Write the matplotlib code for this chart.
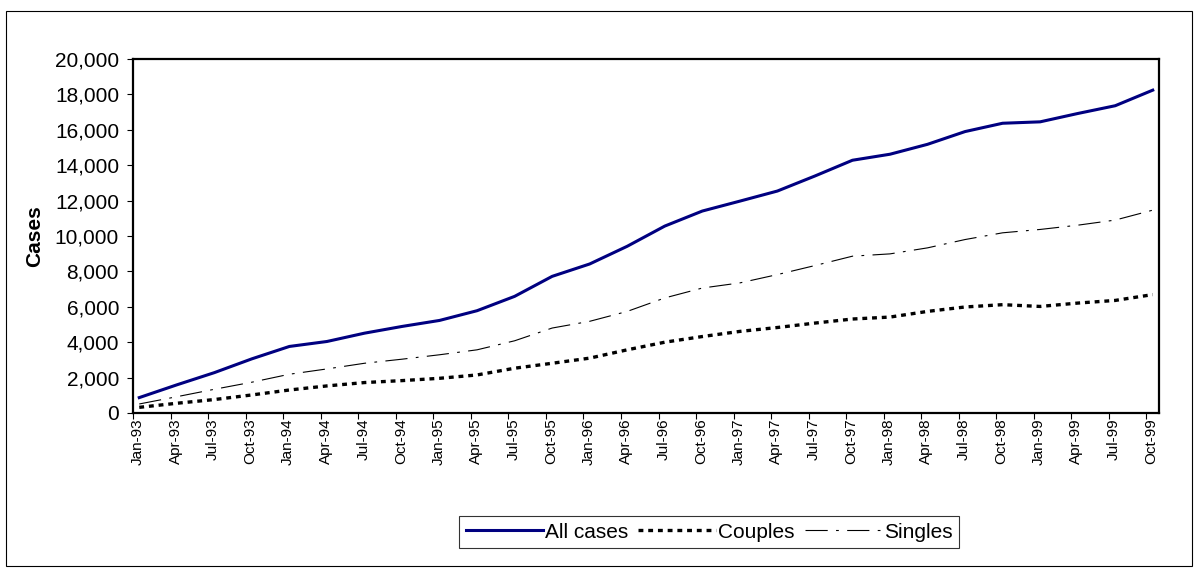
import matplotlib
matplotlib.use('Agg')
import matplotlib.pyplot as plt
from matplotlib.patches import Rectangle
from matplotlib.ticker import FuncFormatter

plt.rcParams['font.family'] = ['Liberation Sans', 'DejaVu Sans']
plt.rcParams['lines.scale_dashes'] = False

# quarterly tick labels, Jan-93 .. Oct-99
quarters = ['Jan', 'Apr', 'Jul', 'Oct']
labels = [q + '-' + str(y) for y in range(93, 100) for q in quarters]

# values at each quarter
all_cases = [870, 1590, 2280, 3060, 3760, 4040, 4510, 4890, 5230, 5780,
             6590, 7720, 8420, 9420, 10560, 11410, 11970, 12540, 13390, 14280,
             14620, 15180, 15900, 16370, 16450, 16920, 17360, 18240]
couples = [320, 550, 760, 1020, 1300, 1530, 1720, 1830, 1960, 2150,
           2530, 2810, 3100, 3570, 4000, 4320, 4610, 4830, 5080, 5310,
           5420, 5740, 5990, 6120, 6020, 6210, 6360, 6690]
singles = [510, 920, 1340, 1740, 2190, 2490, 2810, 3040, 3290, 3570,
           4080, 4800, 5180, 5740, 6500, 7060, 7350, 7820, 8330, 8860,
           8990, 9330, 9800, 10180, 10370, 10610, 10900, 11460]

# date axis in months from Jan-93, points sit mid-month
tick_pos = [3 * i for i in range(len(labels))]
x = [p + 0.5 for p in tick_pos]

fig = plt.figure(figsize=(11.97, 5.68), dpi=100)
W, H = 1197.0, 568.0
ax = fig.add_axes([133 / W, (H - 413) / H, (1159 - 133) / W, (413 - 59) / H])

ax.plot(x, all_cases, color='#000080', lw=2.2, label='All cases')
ax.plot(x, couples, color='black', lw=2.4, dashes=(3.5, 3.5), label='Couples')
ax.plot(x, singles, color='black', lw=0.8, dashes=(16, 6, 2, 6), label='Singles')

ax.set_xlim(0, 82)
ax.set_ylim(0, 20000)
ax.set_yticks(range(0, 20001, 2000))
ax.yaxis.set_major_formatter(FuncFormatter(lambda v, p: '{:,.0f}'.format(v)))

ax.set_xticks(tick_pos)
ax.set_xticklabels([])
ax.set_xticks([p + 0.4 for p in tick_pos], labels, minor=True, rotation=90)
ax.tick_params(axis='x', which='minor', length=0, labelsize=11, pad=4)
ax.tick_params(axis='x', which='major', direction='out', length=4, width=0.8)
ax.tick_params(axis='y', direction='out', length=4, width=0.8, labelsize=15, pad=6)

for s in ax.spines.values():
    s.set_linewidth(1.6)

ax.set_ylabel('Cases', fontsize=15, fontweight='bold', labelpad=8)

leg = fig.legend(loc='center', bbox_to_anchor=(709 / W, (H - 532) / H), ncol=3,
                 handlelength=3.7, handletextpad=0.1, columnspacing=0.5,
                 fontsize=15, frameon=True, fancybox=False, borderpad=0.3)
leg.get_frame().set_edgecolor('black')
leg.get_frame().set_linewidth(0.8)

fig.patches.append(Rectangle((6 / W, 2 / H), (1192 - 6) / W, (557 - 2) / H,
                             transform=fig.transFigure, fill=False,
                             edgecolor='black', lw=0.8))

fig.savefig('out.png', dpi=100)
